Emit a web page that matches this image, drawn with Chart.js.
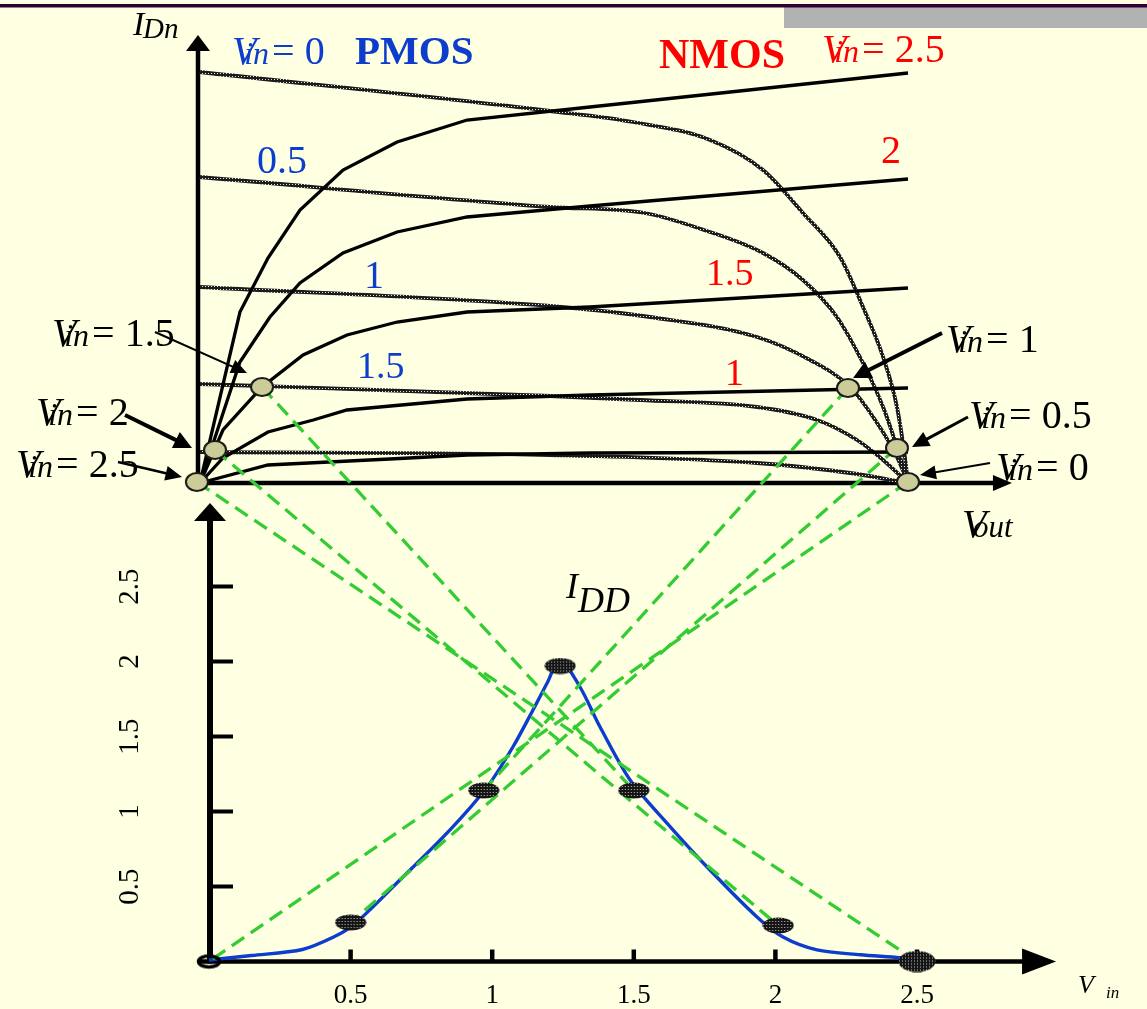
<!DOCTYPE html>
<html>
<head>
<meta charset="utf-8">
<script src="https://cdn.jsdelivr.net/npm/chart.js@4/dist/chart.umd.min.js"></script>
<style>
html,body{margin:0;padding:0;background:#FFFFE1;overflow:hidden}
#wrap{position:relative;width:1147px;height:1009px}
canvas{display:block}
</style>
</head>
<body>
<div id="wrap"><canvas id="c" width="1147" height="1009"></canvas></div>
<script>
// ---------------- DATA ----------------
// Input-voltage levels of the family of curves
const vinLevels = [0, 0.5, 1, 1.5, 2, 2.5];

// NMOS I_Dn vs V_out (solid black curves), one pair of arrays per V_in
const nmos25Vout = [0, 0.141, 0.24, 0.353, 0.505, 0.696, 0.943, 1.377, 2.5];
const nmos25Id   = [0, 1.71, 2.25, 2.73, 3.13, 3.41, 3.63, 3.76, 4.10];
const nmos20Vout = [0, 0.141, 0.247, 0.353, 0.505, 0.696, 0.943, 1.377, 2.5];
const nmos20Id   = [0, 1.21, 1.66, 2.00, 2.30, 2.51, 2.66, 2.77, 3.04];
const nmos15Vout = [0, 0.081, 0.219, 0.364, 0.519, 0.696, 0.943, 1.377, 2.5];
const nmos15Id   = [0, 0.53, 0.96, 1.28, 1.48, 1.61, 1.71, 1.76, 1.95];
const nmos10Vout = [0, 0.081, 0.24, 0.40, 0.519, 0.943, 1.377, 2.5];
const nmos10Id   = [0, 0.25, 0.51, 0.63, 0.73, 0.84, 0.88, 0.95];
const nmos05Vout = [0, 0.24, 0.67, 0.943, 1.377, 2.5];
const nmos05Id   = [0, 0.18, 0.24, 0.28, 0.30, 0.31];

// PMOS load curves (grey dotted), one pair per V_in
const pmos00Vout = [0, 1.236, 1.529, 1.801, 1.988, 2.129, 2.26, 2.341, 2.412, 2.461, 2.489, 2.5];
const pmos00Id   = [4.11, 3.72, 3.61, 3.43, 3.13, 2.70, 2.26, 1.76, 1.26, 0.76, 0.26, 0];
const pmos05Vout = [0, 1.236, 1.57, 1.78, 1.988, 2.129, 2.249, 2.341, 2.412, 2.461, 2.5];
const pmos05Id   = [3.06, 2.76, 2.70, 2.53, 2.30, 2.03, 1.66, 1.20, 0.76, 0.36, 0];
const pmos10Vout = [0, 1.236, 1.589, 1.967, 2.154, 2.295, 2.391, 2.461, 2.5];
const pmos10Id   = [1.96, 1.77, 1.66, 1.46, 1.23, 0.96, 0.60, 0.26, 0];
const pmos15Vout = [0, 1.236, 1.554, 1.967, 2.179, 2.32, 2.412, 2.5];
const pmos15Id   = [0.99, 0.87, 0.83, 0.76, 0.63, 0.43, 0.23, 0];
const pmos20Vout = [0, 1.236, 1.967, 2.295, 2.5];
const pmos20Id   = [0.31, 0.28, 0.20, 0.10, 0];

// Operating points (intersections) for each V_in in vinLevels order
const qTopVout = [2.5, 2.461, 2.288, 0.219, 0.053, -0.011];
const qTopId   = [0.01, 0.35, 0.95, 0.96, 0.33, 0.01];
const qBotVin  = [0, 0.5, 0.97, 1.5, 2.01, 2.5];
const qBotIdd  = [0, 0.26, 1.14, 1.14, 0.24, 0];
const peakVin = 1.24;
const peakIdd = 1.97;

// I_DD vs V_in (blue curve)
const iddVin = [0, 0.15, 0.33, 0.44, 0.51, 0.674, 0.851, 0.982, 1.073, 1.144, 1.194, 1.239, 1.31, 1.381, 1.487, 1.617, 1.769, 1.935, 2.027, 2.147, 2.3, 2.44, 2.5];
const iddVal = [0.01, 0.04, 0.08, 0.163, 0.243, 0.543, 0.877, 1.163, 1.43, 1.677, 1.857, 2.01, 1.83, 1.563, 1.21, 0.923, 0.61, 0.297, 0.163, 0.077, 0.045, 0.025, 0.01];

// Tick labels of the lower axes
const botXTicks = [0.5, 1, 1.5, 2, 2.5];
const botXTickLabels = ['0.5', '1', '1.5', '2', '2.5'];
const botYTicks = [0.5, 1, 1.5, 2, 2.5];
const botYTickLabels = ['0.5', '1', '1.5', '2', '2.5'];

// ---------------- LAYOUT / STYLE ----------------
const W = 1147, H = 1009;
const CAL = {
  xTop: {origin: 200, unit: 283.2},
  yTop: {origin: 483, unit: 100},
  xBot: {origin: 209, unit: 283.2},
  yBot: {origin: 961.5, unit: 150}
};
function hRange(c) { return {min: -c.origin / c.unit, max: (W - c.origin) / c.unit}; }
function vRange(c) { return {min: (c.origin - H) / c.unit, max: c.origin / c.unit}; }
// axis extents (data units) for the arrows
const AX = {topXEnd: 2.867, topYEnd: 4.48, botXStart: -0.035, botXEnd: 2.991, botYEnd: 3.057};

const SERIF = '"Liberation Serif", "Times New Roman", serif';
const BLUE = '#0D3DCC', RED = '#FF0000', GREEN = '#33CC33', BG = '#FFFFE1';

const mainCtx = document.getElementById('c').getContext('2d');

function makeDotPattern() {
  const c = document.createElement('canvas'); c.width = 3; c.height = 3;
  const g = c.getContext('2d');
  g.fillStyle = '#1c1c1c'; g.fillRect(0, 0, 3, 3);
  g.fillStyle = '#e4e4e4'; g.fillRect(1, 1, 1, 1);
  return mainCtx.createPattern(c, 'repeat');
}
function ellipseImg(w, h, fill, stroke, lw) {
  const c = document.createElement('canvas'); c.width = w; c.height = h;
  const g = c.getContext('2d');
  g.beginPath(); g.ellipse(w / 2, h / 2, w / 2 - lw, h / 2 - lw, 0, 0, Math.PI * 2);
  if (fill) { g.fillStyle = fill; g.fill(); }
  if (stroke) { g.lineWidth = lw; g.strokeStyle = stroke; g.stroke(); }
  return c;
}
function hatchImg(w, h) {
  const c = document.createElement('canvas'); c.width = w; c.height = h;
  const g = c.getContext('2d');
  g.beginPath(); g.ellipse(w / 2, h / 2, w / 2 - 0.5, h / 2 - 0.5, 0, 0, Math.PI * 2); g.clip();
  g.fillStyle = '#151515'; g.fillRect(0, 0, w, h);
  g.fillStyle = '#bdbdbd';
  for (let x = 1; x < w; x += 3) for (let y = 1; y < h; y += 3) g.fillRect(x, y, 1, 1);
  return c;
}
const dotPattern = makeDotPattern();
const circleImg = ellipseImg(26, 22, '#CCCC99', '#1a1a1a', 2);
const blobImg = hatchImg(32, 17);
const bigBlobImg = hatchImg(38, 22);
const ringImg = ellipseImg(28, 18, null, '#000', 3.5);

function xy(xs, ys) { return xs.map((x, i) => ({x: x, y: ys[i]})); }

function nmosSet(label, xs, ys) {
  return {label, data: xy(xs, ys), xAxisID: 'xTop', yAxisID: 'yTop', borderColor: '#000',
    borderWidth: 3.3, pointRadius: 0, tension: 0, fill: false, order: 3};
}
function pmosSet(label, xs, ys) {
  return {label, data: xy(xs, ys), xAxisID: 'xTop', yAxisID: 'yTop', borderColor: dotPattern,
    borderWidth: 3.8, pointRadius: 0, cubicInterpolationMode: 'monotone', fill: false, order: 3};
}

const datasets = [
  nmosSet('NMOS Vin=2.5', nmos25Vout, nmos25Id),
  nmosSet('NMOS Vin=2', nmos20Vout, nmos20Id),
  nmosSet('NMOS Vin=1.5', nmos15Vout, nmos15Id),
  nmosSet('NMOS Vin=1', nmos10Vout, nmos10Id),
  nmosSet('NMOS Vin=0.5', nmos05Vout, nmos05Id),
  pmosSet('PMOS Vin=0', pmos00Vout, pmos00Id),
  pmosSet('PMOS Vin=0.5', pmos05Vout, pmos05Id),
  pmosSet('PMOS Vin=1', pmos10Vout, pmos10Id),
  pmosSet('PMOS Vin=1.5', pmos15Vout, pmos15Id),
  pmosSet('PMOS Vin=2', pmos20Vout, pmos20Id),
  {label: 'I_DD', data: xy(iddVin, iddVal), xAxisID: 'xBot', yAxisID: 'yBot', borderColor: BLUE,
    borderWidth: 3.4, pointRadius: 0, tension: 0.3, fill: false, order: 2},
  {label: 'Operating points', data: xy(qTopVout, qTopId), xAxisID: 'xTop', yAxisID: 'yTop',
    showLine: false, pointRadius: 10, pointStyle: circleImg, order: 1},
  {label: 'I_DD points', data: xy(qBotVin.concat([peakVin]), qBotIdd.concat([peakIdd])), xAxisID: 'xBot', yAxisID: 'yBot',
    showLine: false, pointRadius: 10,
    pointStyle: (c) => c.dataIndex === 0 ? ringImg : (c.dataIndex === 5 ? bigBlobImg : blobImg), order: 1}
];

// ---------------- DRAW HELPERS ----------------
function arrowHead(ctx, tx, ty, ang, len, half) {
  ctx.save(); ctx.translate(tx, ty); ctx.rotate(ang);
  ctx.beginPath(); ctx.moveTo(0, 0); ctx.lineTo(-len, -half); ctx.lineTo(-len, half); ctx.closePath();
  ctx.fill(); ctx.restore();
}
function arrow(ctx, x1, y1, x2, y2, lw) {
  const ang = Math.atan2(y2 - y1, x2 - x1);
  const len = 14 + lw, half = 5 + lw;
  ctx.save(); ctx.strokeStyle = '#000'; ctx.fillStyle = '#000'; ctx.lineWidth = lw;
  ctx.beginPath(); ctx.moveTo(x1, y1);
  ctx.lineTo(x2 - Math.cos(ang) * len * 0.8, y2 - Math.sin(ang) * len * 0.8); ctx.stroke();
  arrowHead(ctx, x2, y2, ang, len, half);
  ctx.restore();
}
function drawVin(ctx, x, y, val, color, size) {
  ctx.save(); ctx.fillStyle = color; ctx.textAlign = 'left'; ctx.textBaseline = 'alphabetic';
  ctx.font = 'italic ' + size + 'px ' + SERIF;
  ctx.fillText('V', x, y);
  const vW = ctx.measureText('V').width;
  ctx.font = 'italic ' + Math.round(size * 0.8) + 'px ' + SERIF;
  const inX = x + vW * 0.5;
  ctx.fillText('in', inX, y);
  const inW = ctx.measureText('in').width;
  ctx.font = size + 'px ' + SERIF;
  ctx.fillText('= ' + val, inX + inW + 3, y);
  ctx.restore();
}
function text(ctx, s, x, y, font, color) {
  ctx.save(); ctx.font = font; ctx.fillStyle = color; ctx.textAlign = 'left'; ctx.textBaseline = 'alphabetic';
  ctx.fillText(s, x, y); ctx.restore();
}

const deco = {
  id: 'deco',
  beforeDraw(chart) {
    const ctx = chart.ctx;
    ctx.save();
    ctx.fillStyle = BG; ctx.fillRect(0, 0, W, H);
    ctx.fillStyle = '#B2B2B2'; ctx.fillRect(784, 6, W - 784, 22);
    ctx.fillStyle = '#330033'; ctx.fillRect(0, 4, W, 3.5);
    ctx.restore();
  },
  beforeDatasetsDraw(chart) {
    const {ctx, scales: {xTop, yTop, xBot, yBot}} = chart;
    ctx.save(); ctx.strokeStyle = '#000'; ctx.fillStyle = '#000'; ctx.lineCap = 'butt';
    // upper axes
    const ox = xTop.getPixelForValue(0) - 2, oy = yTop.getPixelForValue(0);
    const yTip = yTop.getPixelForValue(AX.topYEnd), xTip = xTop.getPixelForValue(AX.topXEnd);
    ctx.lineWidth = 4.5;
    ctx.beginPath(); ctx.moveTo(ox, oy + 2); ctx.lineTo(ox, yTip + 14); ctx.stroke();
    arrowHead(ctx, ox, yTip, -Math.PI / 2, 16, 12);
    ctx.beginPath(); ctx.moveTo(ox - 2, oy); ctx.lineTo(xTip - 16, oy); ctx.stroke();
    arrowHead(ctx, xTip, oy, 0, 19, 8);
    // lower axes
    const bx = xBot.getPixelForValue(0) + 1, by = yBot.getPixelForValue(0);
    const byTip = yBot.getPixelForValue(AX.botYEnd), bxTip = xBot.getPixelForValue(AX.botXEnd);
    ctx.lineWidth = 6;
    ctx.beginPath(); ctx.moveTo(bx, by + 2); ctx.lineTo(bx, byTip + 16); ctx.stroke();
    arrowHead(ctx, bx, byTip, -Math.PI / 2, 18, 16);
    ctx.lineWidth = 4.5;
    ctx.beginPath(); ctx.moveTo(xBot.getPixelForValue(AX.botXStart), by); ctx.lineTo(bxTip - 30, by); ctx.stroke();
    arrowHead(ctx, bxTip, by, 0, 34, 13);
    // ticks
    ctx.lineWidth = 4.5;
    botXTicks.forEach((v) => {
      const px = xBot.getPixelForValue(v);
      ctx.beginPath(); ctx.moveTo(px, by); ctx.lineTo(px, by - 12); ctx.stroke();
    });
    ctx.lineWidth = 4;
    botYTicks.forEach((v) => {
      const py = yBot.getPixelForValue(v);
      ctx.beginPath(); ctx.moveTo(bx, py); ctx.lineTo(bx + 23, py); ctx.stroke();
    });
    // tick labels
    ctx.font = '27px ' + SERIF; ctx.textAlign = 'center'; ctx.textBaseline = 'alphabetic';
    botXTicks.forEach((v, i) => ctx.fillText(botXTickLabels[i], xBot.getPixelForValue(v), 1003));
    ctx.font = '29px ' + SERIF; ctx.textBaseline = 'middle';
    botYTicks.forEach((v, i) => {
      ctx.save(); ctx.translate(129, yBot.getPixelForValue(v)); ctx.rotate(-Math.PI / 2);
      ctx.fillText(botYTickLabels[i], 0, 1); ctx.restore();
    });
    ctx.restore();
  },
  afterDatasetDraw(chart, args) {
    if (chart.data.datasets[args.index].label !== 'I_DD') return;
    const {ctx, scales: {xTop, yTop, xBot, yBot}} = chart;
    ctx.save(); ctx.strokeStyle = GREEN; ctx.lineWidth = 3.3; ctx.setLineDash([15, 8]);
    for (let i = 0; i < vinLevels.length; i++) {
      ctx.beginPath();
      ctx.moveTo(xTop.getPixelForValue(qTopVout[i]), yTop.getPixelForValue(qTopId[i]));
      ctx.lineTo(xBot.getPixelForValue(qBotVin[i]), yBot.getPixelForValue(qBotIdd[i]));
      ctx.stroke();
    }
    ctx.restore();
  },
  afterDraw(chart) {
    const ctx = chart.ctx;
    // axis titles
    text(ctx, 'I', 133, 35, 'italic 34px ' + SERIF, '#000');
    text(ctx, 'Dn', 143, 38, 'italic 29px ' + SERIF, '#000');
    text(ctx, 'V', 962, 537, 'italic 40px ' + SERIF, '#000');
    text(ctx, 'out', 973, 537, 'italic 31px ' + SERIF, '#000');
    text(ctx, 'I', 566, 598, 'italic 36px ' + SERIF, '#000');
    text(ctx, 'DD', 578, 612, 'italic 36px ' + SERIF, '#000');
    text(ctx, 'V', 1078, 993, 'italic 26px ' + SERIF, '#000');
    text(ctx, 'in', 1106, 998, 'italic 17px ' + SERIF, '#000');
    // PMOS labels (blue)
    drawVin(ctx, 232, 64, '0', BLUE, 40);
    text(ctx, 'PMOS', 355, 64, 'bold 41px ' + SERIF, BLUE);
    text(ctx, '0.5', 257, 173, '40px ' + SERIF, BLUE);
    text(ctx, '1', 364, 288, '40px ' + SERIF, BLUE);
    text(ctx, '1.5', 357, 378, '38px ' + SERIF, BLUE);
    // NMOS labels (red)
    text(ctx, 'NMOS', 659, 68, 'bold 42px ' + SERIF, RED);
    drawVin(ctx, 822, 62, '2.5', RED, 40);
    text(ctx, '2', 881, 163, '40px ' + SERIF, RED);
    text(ctx, '1.5', 706, 285, '38px ' + SERIF, RED);
    text(ctx, '1', 725, 385, '38px ' + SERIF, RED);
    // operating point call-outs
    drawVin(ctx, 52, 346, '1.5', '#000', 40);
    drawVin(ctx, 36, 425, '2', '#000', 40);
    drawVin(ctx, 16, 477, '2.5', '#000', 40);
    drawVin(ctx, 946, 352, '1', '#000', 40);
    drawVin(ctx, 969, 428, '0.5', '#000', 40);
    drawVin(ctx, 996, 480, '0', '#000', 40);
    arrow(ctx, 155, 332, 247, 373, 2);
    arrow(ctx, 125, 415, 192, 448, 4);
    arrow(ctx, 118, 462, 182, 477, 2.5);
    arrow(ctx, 942, 333, 853, 378, 4);
    arrow(ctx, 968, 417, 912, 447, 3);
    arrow(ctx, 990, 463, 920, 475, 2);
  }
};

const xT = hRange(CAL.xTop), yT = vRange(CAL.yTop), xB = hRange(CAL.xBot), yB = vRange(CAL.yBot);
new Chart(mainCtx, {
  type: 'line',
  data: {datasets: datasets},
  options: {
    responsive: false, animation: false, devicePixelRatio: 1, events: [],
    layout: {padding: 0, autoPadding: false},
    plugins: {legend: {display: false}, tooltip: {enabled: false}, title: {display: false}},
    scales: {
      xTop: {type: 'linear', position: 'bottom', display: false, bounds: 'data', min: xT.min, max: xT.max},
      yTop: {type: 'linear', position: 'left', display: false, bounds: 'data', min: yT.min, max: yT.max},
      xBot: {type: 'linear', position: 'bottom', display: false, bounds: 'data', min: xB.min, max: xB.max},
      yBot: {type: 'linear', position: 'left', display: false, bounds: 'data', min: yB.min, max: yB.max}
    }
  },
  plugins: [deco]
});
</script>
</body>
</html>
